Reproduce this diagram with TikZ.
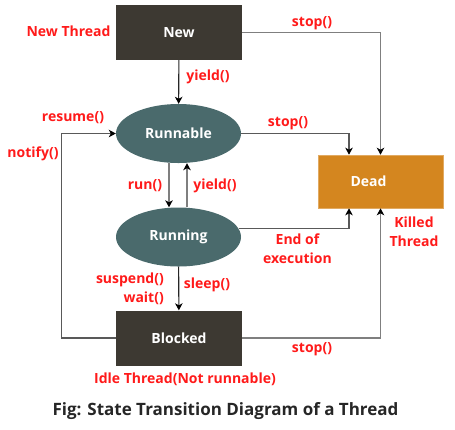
\documentclass[tikz,border=0pt]{standalone}
\usepackage{fontspec}
\setmainfont{Open Sans}
\usetikzlibrary{arrows.meta,shapes.geometric}
\definecolor{boxdark}{HTML}{3D3932}
\definecolor{ellc}{HTML}{4A6A6C}
\definecolor{deadc}{HTML}{D4861F}
\definecolor{lblc}{HTML}{FF1A1A}
\definecolor{lnc}{HTML}{7F7F7F}
\begin{document}
\begin{tikzpicture}[x=1bp,y=-1bp,
  basefont/.style={font=\fontsize{14bp}{19bp}\selectfont\bfseries},
  box/.style={basefont, rectangle, fill=boxdark, minimum width=126bp, minimum height=55bp, inner sep=0pt, text=white},
  ell/.style={basefont, ellipse, fill=ellc, minimum width=125bp, minimum height=59bp, inner sep=0pt, text=white},
  deadbox/.style={basefont, rectangle, fill=deadc, draw=deadc!70!white, line width=0.6bp, minimum width=125bp, minimum height=53bp, inner sep=0pt, text=white},
  lbl/.style={basefont, text=lblc, inner sep=0pt},
  tip/.style={-{Stealth[length=7bp,width=7.5bp,inset=2bp,black]}},
  thinln/.style={tip, draw=black!85, line width=1.1bp},
  grayln/.style={tip, draw=lnc, line width=1.8bp},
  midln/.style={tip, draw=black!65, line width=1.2bp}
]
\useasboundingbox (0,0) rectangle (455,429);

% states
\node[box] (new) at (179,32.5) {New};
\node[ell] (runnable) at (178.5,133.5) {Runnable};
\node[ell] (running) at (178.5,237) {Running};
\node[box] (blocked) at (179,338) {Blocked};
\node[deadbox] (dead) at (380.5,181.5) {\hspace*{-24bp}Dead};

% connectors
\draw[thinln] (new) -- (runnable);
\draw[grayln] (new.east) -| (dead.north);
\draw[midln] (runnable.east) -| ([xshift=-31.5bp]dead.north);
\draw[grayln] ([xshift=-9.5bp]runnable.south) -- ([xshift=-9.5bp]running.north);
\draw[grayln] ([xshift=8.5bp]running.north) -- ([xshift=8.5bp]runnable.south);
\draw[midln] (running.8) -| ([xshift=-31.5bp]dead.south);
\draw[thinln] (running) -- (blocked);
\draw[midln] (blocked.west) -- ++(-54,0) |- (runnable.west);
\draw[grayln] (blocked.east) -| (dead.south);

% labels
\node[lbl] (lnewthread) at (68.5,31) {New Thread};
\node[lbl] (lstop1) at (312,23) {stop()};
\node[lbl] (lyield1) at (208,77) {yield()};
\node[lbl] (lresume) at (73,118) {resume()};
\node[lbl] (lnotify) at (33,154) {notify()};
\node[lbl] (lstop2) at (288,123) {stop()};
\node[lbl] (lrun) at (145,186) {run()};
\node[lbl] (lyield2) at (215,186) {yield()};
\node[lbl, align=center] (lkilled) at (414,232) {Killed\\Thread};
\node[lbl, align=center] (lend) at (297.5,249) {End of\\execution};
\node[lbl, align=right, anchor=east] (lsusp) at (164,289) {suspend()\\wait()};
\node[lbl] (lsleep) at (207,285) {sleep()};
\node[lbl] (lstop3) at (312,349) {stop()};
\node[lbl] (lidle) at (185,379) {Idle Thread(Not runnable)};
\node[inner sep=0pt, font=\fontsize{17bp}{20bp}\selectfont\bfseries, text=black!85] (title) at (225.5,411) {Fig: State Transition Diagram of a Thread};
\end{tikzpicture}
\end{document}
